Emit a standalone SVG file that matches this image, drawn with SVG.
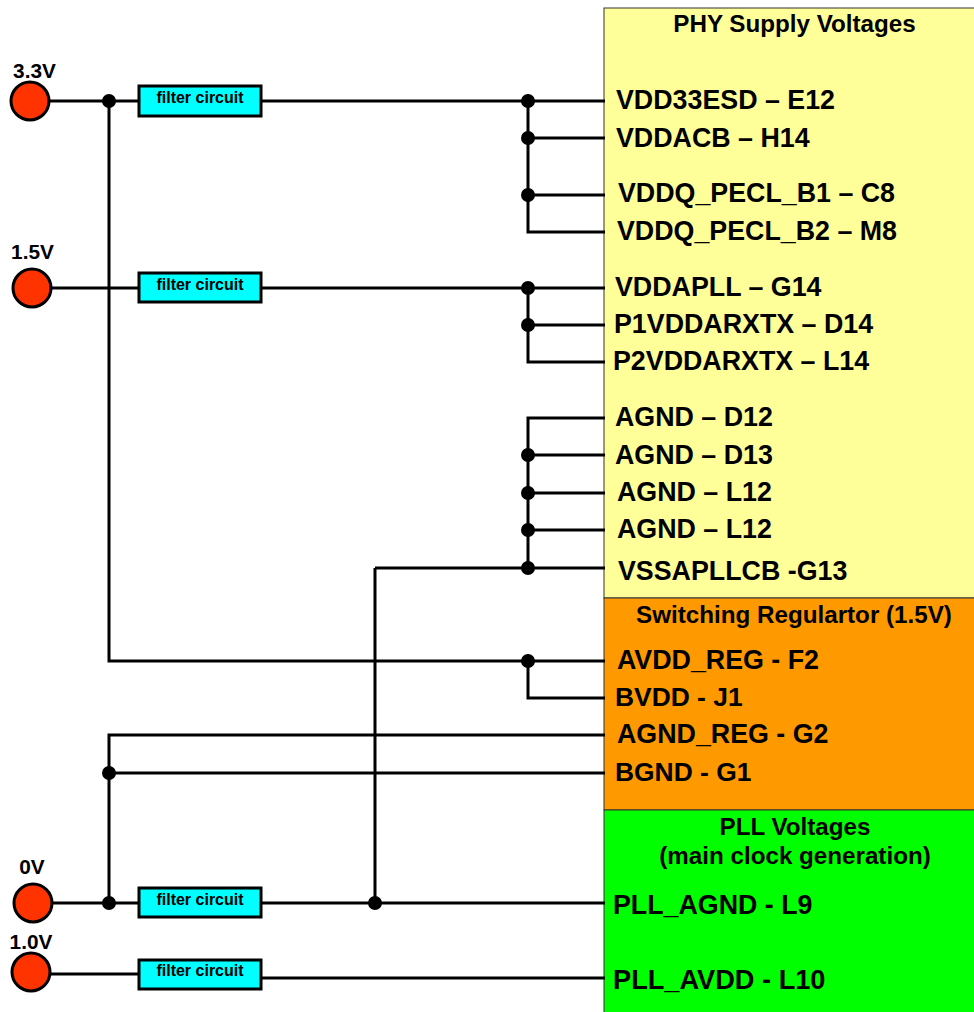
<svg xmlns="http://www.w3.org/2000/svg" width="974" height="1012" viewBox="0 0 974 1012">
<defs>
<style>
text{font-family:"Liberation Sans",Arial,sans-serif;font-weight:bold;fill:#000}
.pin{font-size:26.8px}
.narrow{font-size:26.4px}
.wide{font-size:27.2px}
.title{font-size:24.2px;text-anchor:middle}
.v{font-size:20.8px;text-anchor:middle}
.f{font-size:16px;text-anchor:middle}
.w{fill:none;stroke:#000;stroke-width:3}
.d{fill:#000}
.fb{fill:#00ffff;stroke:#000;stroke-width:3}
.src{fill:#ff3300;stroke:#000;stroke-width:3}
</style>
</defs>
<g id="block-phy"><rect x="604" y="8" width="371" height="590" fill="#ffff99" stroke="#333" stroke-width="1"/><text class="title" x="794.500" y="32">PHY Supply Voltages</text></g>
<g id="block-reg"><rect x="604" y="598" width="371" height="212" fill="#ff9900" stroke="#333" stroke-width="1"/><text class="title" x="794" y="623">Switching Regulartor (1.5V)</text></g>
<g id="block-pll"><rect x="604" y="810" width="371" height="203" fill="#00ff00" stroke="#333" stroke-width="1"/><text class="title" x="795" y="835">PLL Voltages</text><text class="title" x="795" y="864">(main clock generation)</text></g>
<g id="connectors">
<path class="w" d="M50 101H140M261 101H605M528 101V232H605M528 138H605M528 195H605"/>
<path class="w" d="M51 288H140M261 288H605M528 288V362H605M528 325H605"/>
<path class="w" d="M605 418H528V568M528 455H605M528 493H605M528 530H605M375 568H605M375 568V903"/>
<path class="w" d="M109 101V661H605M528 661V698H605"/>
<path class="w" d="M605 735H109V903M109 773H605"/>
<path class="w" d="M52 903H140M261 903H605"/>
<path class="w" d="M50 974H140M261 978H605"/>
<g class="d">
<circle cx="109" cy="101" r="7"/><circle cx="528" cy="101" r="7"/><circle cx="528" cy="138" r="7"/><circle cx="528" cy="195" r="7"/>
<circle cx="528" cy="288" r="7"/><circle cx="528" cy="325" r="7"/>
<circle cx="528" cy="455" r="7"/><circle cx="528" cy="493" r="7"/><circle cx="528" cy="530" r="7"/><circle cx="528" cy="568" r="7"/>
<circle cx="528" cy="661" r="7"/><circle cx="109" cy="773" r="7"/><circle cx="109" cy="903" r="7"/><circle cx="375" cy="903" r="7"/>
</g>
</g>
<g id="src-33"><circle class="src" cx="30" cy="101" r="19"/><text class="v" x="34.500" y="78">3.3V</text></g>
<g id="src-15"><circle class="src" cx="32" cy="288" r="19"/><text class="v" x="32.500" y="259">1.5V</text></g>
<g id="src-0"><circle class="src" cx="33" cy="903" r="19"/><text class="v" x="32" y="874">0V</text></g>
<g id="src-10"><circle class="src" cx="31" cy="972" r="19"/><text class="v" x="31" y="949">1.0V</text></g>
<g id="filter-1"><rect class="fb" x="139" y="86" width="122" height="30"/><text class="f" x="200" y="103">filter circuit</text></g>
<g id="filter-2"><rect class="fb" x="139" y="273" width="122" height="29"/><text class="f" x="200" y="290">filter circuit</text></g>
<g id="filter-3"><rect class="fb" x="139" y="888" width="122" height="29"/><text class="f" x="200" y="905">filter circuit</text></g>
<g id="filter-4"><rect class="fb" x="139" y="960" width="122" height="29"/><text class="f" x="200" y="976">filter circuit</text></g>
<g id="pins">
<text class="pin" x="616" y="109">VDD33ESD – E12</text>
<text class="pin" x="616" y="147">VDDACB – H14</text>
<text class="pin" x="618" y="202">VDDQ_PECL_B1 – C8</text>
<text class="pin" x="617" y="240">VDDQ_PECL_B2 – M8</text>
<text class="pin" x="615" y="296">VDDAPLL – G14</text>
<text class="pin" x="614" y="333">P1VDDARXTX – D14</text>
<text class="pin" x="613" y="370">P2VDDARXTX – L14</text>
<text class="pin" x="615" y="426">AGND – D12</text>
<text class="pin" x="615" y="464">AGND – D13</text>
<text class="pin" x="617" y="501">AGND – L12</text>
<text class="pin" x="617" y="538">AGND – L12</text>
<text class="pin" x="618" y="580">VSSAPLLCB -G13</text>
<text class="pin" x="617" y="669">AVDD_REG - F2</text>
<text class="pin narrow" x="615" y="706">BVDD - J1</text>
<text class="pin" x="617" y="743">AGND_REG - G2</text>
<text class="pin narrow" x="615" y="781">BGND - G1</text>
<text class="pin" x="613" y="914">PLL_AGND - L9</text>
<text class="pin wide" x="613" y="989">PLL_AVDD - L10</text>
</g>
</svg>
